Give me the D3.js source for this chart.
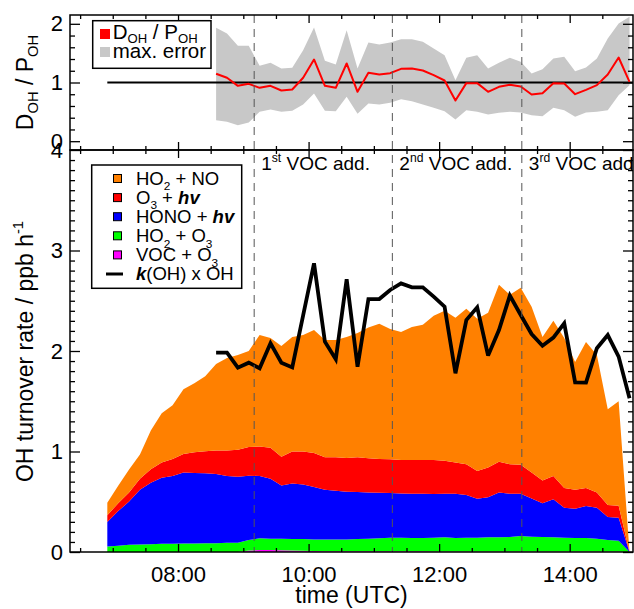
<!DOCTYPE html>
<html><head><meta charset="utf-8">
<script src="https://cdn.jsdelivr.net/npm/d3@7"></script>
<style>
body{margin:0;background:#fff}
svg{display:block;font-family:"Liberation Sans",Arial,Helvetica,sans-serif}
</style>
</head><body>
<svg id="c" width="634" height="609"></svg>
<script>
// ---------- DATA ----------
const stackTimes = ["06:55","07:05","07:15","07:25","07:35","07:45","07:55","08:05","08:15","08:25",
  "08:35","08:45","08:55","09:05","09:15","09:25","09:35","09:45","09:55","10:05",
  "10:15","10:25","10:35","10:45","10:55","11:05","11:15","11:25","11:35","11:45",
  "11:55","12:05","12:15","12:25","12:35","12:45","12:55","13:05","13:15","13:25",
  "13:35","13:45","13:55","14:05","14:15","14:25","14:35","14:45","14:55"];
const vocO3 = [0,0,0,0,0,0,0,0,0,0, 0,0,0,0.015,0.02,0.02,0.018,0.015,0.012,0.01,
  0.008,0.008,0.008,0.008,0.008,0.008,0.008,0.008,0.008,0.008,
  0.006,0.006,0.006,0.006,0.006,0.006,0.006,0.006,0.006,0.006,
  0.006,0.006,0.006,0.006,0.006,0.006,0.006,0.006,0];
const ho2O3 = [0.054,0.061,0.071,0.075,0.078,0.081,0.081,0.085,0.085,0.088,
  0.088,0.091,0.091,0.104,0.116,0.112,0.114,0.114,0.117,0.115,
  0.117,0.117,0.117,0.121,0.124,0.128,0.134,0.134,0.131,0.131,
  0.136,0.140,0.133,0.136,0.136,0.140,0.140,0.143,0.153,0.146,
  0.143,0.140,0.136,0.133,0.133,0.126,0.113,0.106,0];
const honoHv = [0.244,0.346,0.431,0.545,0.610,0.658,0.675,0.705,0.701,0.695,
  0.688,0.665,0.658,0.640,0.620,0.597,0.529,0.552,0.542,0.522,
  0.495,0.485,0.475,0.467,0.461,0.454,0.444,0.441,0.440,0.440,
  0.434,0.433,0.440,0.424,0.387,0.400,0.447,0.430,0.420,0.380,
  0.336,0.379,0.299,0.291,0.318,0.309,0.230,0.230,0];
const o3Hv = [0.068,0.078,0.091,0.109,0.135,0.152,0.169,0.186,0.207,0.220,
  0.234,0.254,0.268,0.285,0.294,0.308,0.288,0.319,0.329,0.339,
  0.322,0.332,0.335,0.346,0.339,0.335,0.336,0.332,0.336,0.336,
  0.339,0.329,0.312,0.308,0.278,0.294,0.305,0.295,0.288,0.258,
  0.227,0.231,0.196,0.190,0.180,0.152,0.119,0.119,0];
const ho2NO = [0.124,0.175,0.227,0.241,0.387,0.489,0.535,0.644,0.687,0.747,
  0.860,0.920,0.943,0.956,1.110,1.093,1.101,1.140,1.160,1.224,
  1.168,1.168,1.205,1.238,1.303,1.345,1.298,1.275,1.325,1.345,
  1.435,1.492,1.439,1.546,1.513,1.540,1.762,1.686,1.763,1.650,
  1.428,1.544,1.493,1.270,1.453,1.367,0.952,1.039,0];

const ohTimes = ["08:35","08:45","08:55","09:05","09:15","09:25","09:35","09:45","09:55","10:05",
  "10:15","10:25","10:35","10:45","10:55","11:05","11:15","11:25","11:35","11:45",
  "11:55","12:05","12:15","12:25","12:35","12:45","12:55","13:05","13:15","13:25",
  "13:35","13:45","13:55","14:05","14:15","14:25","14:35","14:45","14:55"];
const kOHxOH = [1.983,1.983,1.834,1.884,1.828,2.076,1.884,1.837,2.355,2.872,
  2.093,1.917,2.713,1.844,2.517,2.517,2.607,2.673,2.634,2.634,
  2.541,2.441,1.778,2.308,2.434,1.954,2.209,2.551,2.358,2.169,
  2.053,2.133,2.275,1.688,1.685,2.027,2.159,1.944,1.530];
const dpRatio = [1.148,1.080,0.943,0.977,0.909,0.943,0.864,0.881,1.080,1.392,
  0.943,0.909,1.324,0.841,1.165,1.136,1.159,1.233,1.239,1.204,
  1.125,1.034,0.693,0.989,0.989,0.841,0.926,0.960,0.932,0.796,
  0.818,0.989,0.983,0.801,0.875,0.955,1.136,1.426,1.011];
const errHigh = [1.931,1.835,1.625,1.625,1.284,1.335,1.239,1.250,1.551,1.937,
  1.369,1.307,1.892,1.239,1.681,1.647,1.681,1.738,1.738,1.693,
  1.579,1.466,1.040,1.420,1.466,1.239,1.335,1.420,1.352,1.153,
  1.227,1.409,1.437,1.193,1.256,1.409,1.750,2.005,2.119];
const errLow = [0.358,0.330,0.273,0.319,0.500,0.540,0.500,0.517,0.625,0.813,
  0.517,0.511,0.756,0.466,0.642,0.625,0.653,0.716,0.682,0.625,
  0.568,0.511,0.370,0.529,0.500,0.455,0.483,0.500,0.489,0.443,
  0.426,0.568,0.529,0.415,0.489,0.500,0.529,0.784,0.955];

const vocAddTimes = ["09:10","11:17","13:16"];
const vocAddOrdinal = [["1","st"],["2","nd"],["3","rd"]];
const vocAddText = [" VOC add."," VOC add."," VOC add"];
const xTickLabels = ["08:00","10:00","12:00","14:00"];
const yTicksBottom = [0,1,2,3,4];
const yTicksTop = [0,1,2];

// ---------- SETUP ----------
const svg = d3.select("#c");
const L = 70, R = 633, T1 = 15, B1 = 150, T2 = 150, B2 = 552;
const parseT = s => { const p = s.split(":").map(Number); return p[0] + p[1] / 60; };
const x = d3.scaleLinear().domain([6.345, 14.97]).range([L, R]);
const yT = d3.scaleLinear().domain([-0.15, 2.15]).range([B1, T1]);
const yB = d3.scaleLinear().domain([0, 4]).range([B2, T2]);

const defs = svg.append("defs");
defs.append("clipPath").attr("id","clipTop").append("rect").attr("x",L).attr("y",T1).attr("width",R-L).attr("height",B1-T1);
defs.append("clipPath").attr("id","clipBot").append("rect").attr("x",L).attr("y",T2).attr("width",R-L).attr("height",B2-T2);

function rich(sel, parts, fs, subShift) {
  const sd = subShift === undefined ? 0.32 : subShift;
  let shift = 0;
  parts.forEach(p => {
    const target = p.sub ? fs * sd : (p.sup ? -fs * 0.42 : 0);
    const ts = sel.append("tspan").text(p.t);
    if (target - shift !== 0) ts.attr("dy", target - shift);
    shift = target;
    if (p.sub || p.sup) ts.attr("font-size", fs * 0.64);
    if (p.bi) ts.attr("font-weight", "bold").attr("font-style", "italic");
  });
}

// ---------- TOP PANEL ----------
const ot = ohTimes.map(parseT);
const gTop = svg.append("g").attr("clip-path","url(#clipTop)");
gTop.append("path").datum(dpRatio)
  .attr("d", d3.area().x((d,i)=>x(ot[i])).y0((d,i)=>yT(errLow[i])).y1((d,i)=>yT(errHigh[i])))
  .attr("fill","#c8c8c8");
gTop.append("path").datum([parseT(stackTimes[0]), x.domain()[1]])
  .attr("d", d3.line().x(d=>x(d)).y(()=>yT(1)))
  .attr("stroke","#000").attr("stroke-width",2).attr("fill","none");
gTop.append("path").datum(dpRatio)
  .attr("d", d3.line().x((d,i)=>x(ot[i])).y(d=>yT(d)))
  .attr("stroke","#ff0000").attr("stroke-width",2).attr("fill","none").attr("stroke-linejoin","round");

// ---------- BOTTOM PANEL ----------
const rows = stackTimes.map((t,i)=>({t:parseT(t), voc:vocO3[i], ho2o3:ho2O3[i], hono:honoHv[i], o3:o3Hv[i], ho2no:ho2NO[i]}));
const keys = ["voc","ho2o3","hono","o3","ho2no"];
const colors = {voc:"#ff00ff", ho2o3:"#00ff00", hono:"#0000ff", o3:"#ff0000", ho2no:"#ff8000"};
const series = d3.stack().keys(keys)(rows);
const gBot = svg.append("g").attr("clip-path","url(#clipBot)");
const area = d3.area().x(d=>x(d.data.t)).y0(d=>yB(d[0])).y1(d=>yB(d[1]));
gBot.selectAll("path.s").data(series).join("path").attr("class","s")
  .attr("d", area).attr("fill", d=>colors[d.key]);
gBot.append("path").datum(kOHxOH)
  .attr("d", d3.line().x((d,i)=>x(ot[i])).y(d=>yB(d)))
  .attr("stroke","#000").attr("stroke-width",3.8).attr("fill","none").attr("stroke-linejoin","miter").attr("stroke-miterlimit",3);

// dashed VOC addition lines
vocAddTimes.forEach(t => {
  svg.append("line").attr("x1",x(parseT(t))).attr("x2",x(parseT(t))).attr("y1",T1).attr("y2",B2)
    .attr("stroke","#555").attr("stroke-width",1).attr("stroke-dasharray","8,6");
});
vocAddTimes.forEach((t,i) => {
  const tx = svg.append("text").attr("x", x(parseT(t)) + 7).attr("y", 170).attr("font-size", 19).attr("fill","#000");
  rich(tx, [{t:vocAddOrdinal[i][0]},{t:vocAddOrdinal[i][1], sup:true},{t:vocAddText[i]}], 19);
});

// ---------- AXES ----------
const majorX = xTickLabels.map(parseT);
const minorX = d3.range(6.5, 15, 0.5).filter(v => !majorX.includes(v));
function styleAxis(g){ g.attr("font-family", null).attr("font-size", 22); g.select(".domain").remove(); g.selectAll("line").attr("stroke","#000").attr("stroke-width",1.3); }

svg.append("g").attr("transform",`translate(0,${B2})`)
  .call(d3.axisBottom(x).tickValues(majorX).tickFormat((d,i)=>xTickLabels[i]).tickSizeInner(-8).tickSizeOuter(0).tickPadding(14))
  .call(styleAxis);
svg.append("g").attr("transform",`translate(0,${B2})`)
  .call(d3.axisBottom(x).tickValues(minorX).tickFormat("").tickSize(-4)).call(styleAxis);
[[T2,"top"],[B1,"bottom"],[T1,"top"]].forEach(([yy,side]) => {
  const ax = side === "top" ? d3.axisTop : d3.axisBottom;
  svg.append("g").attr("transform",`translate(0,${yy})`).call(ax(x).tickValues(majorX).tickFormat("").tickSize(-8)).call(styleAxis);
  svg.append("g").attr("transform",`translate(0,${yy})`).call(ax(x).tickValues(minorX).tickFormat("").tickSize(-4)).call(styleAxis);
});

const minorYB = d3.range(1, 40).map(v=>v/10).filter(v => !Number.isInteger(v));
svg.append("g").attr("transform",`translate(${L},0)`)
  .call(d3.axisLeft(yB).tickValues(yTicksBottom).tickFormat(d3.format("d")).tickSizeInner(-10).tickSizeOuter(0).tickPadding(7))
  .call(styleAxis);
svg.append("g").attr("transform",`translate(${L},0)`)
  .call(d3.axisLeft(yB).tickValues(minorYB).tickFormat("").tickSize(-5)).call(styleAxis);
svg.append("g").attr("transform",`translate(${R},0)`)
  .call(d3.axisRight(yB).tickValues(yTicksBottom).tickFormat("").tickSize(-10)).call(styleAxis);
svg.append("g").attr("transform",`translate(${R},0)`)
  .call(d3.axisRight(yB).tickValues(minorYB).tickFormat("").tickSize(-5)).call(styleAxis);

const minorYT = [0.2,0.4,0.6,0.8,1.2,1.4,1.6,1.8];
svg.append("g").attr("transform",`translate(${L},0)`)
  .call(d3.axisLeft(yT).tickValues(yTicksTop).tickFormat(d3.format("d")).tickSizeInner(-10).tickSizeOuter(0).tickPadding(7))
  .call(styleAxis);
svg.append("g").attr("transform",`translate(${L},0)`)
  .call(d3.axisLeft(yT).tickValues(minorYT).tickFormat("").tickSize(-5)).call(styleAxis);
svg.append("g").attr("transform",`translate(${R},0)`)
  .call(d3.axisRight(yT).tickValues(yTicksTop).tickFormat("").tickSize(-10)).call(styleAxis);
svg.append("g").attr("transform",`translate(${R},0)`)
  .call(d3.axisRight(yT).tickValues(minorYT).tickFormat("").tickSize(-5)).call(styleAxis);

[[T1,B1],[T2,B2]].forEach(([a,b]) => {
  svg.append("rect").attr("x",L).attr("y",a).attr("width",R-L).attr("height",b-a)
    .attr("fill","none").attr("stroke","#000").attr("stroke-width",1.5);
});

// axis titles
const tTop = svg.append("text").attr("transform","translate(33,82.5) rotate(-90)").attr("text-anchor","middle").attr("font-size",23);
rich(tTop, [{t:"D"},{t:"OH",sub:true},{t:" / P"},{t:"OH",sub:true}], 23, 0.22);
const tBot = svg.append("text").attr("transform","translate(33,351.5) rotate(-90)").attr("text-anchor","middle").attr("font-size",23);
rich(tBot, [{t:"OH turnover rate / ppb h"},{t:"-1",sup:true}], 23);
svg.append("text").attr("x",(L+R)/2).attr("y",603).attr("text-anchor","middle").attr("font-size",23).text("time (UTC)");

// ---------- LEGENDS ----------
svg.append("rect").attr("x",92.7).attr("y",20.7).attr("width",118.3).attr("height",47.6).attr("fill","#fff").attr("stroke","#000").attr("stroke-width",1.5);
svg.append("rect").attr("x",100).attr("y",29).attr("width",10).attr("height",10).attr("fill","#ff0000");
svg.append("rect").attr("x",100).attr("y",47).attr("width",10).attr("height",10).attr("fill","#c8c8c8");
const lt1 = svg.append("text").attr("x",112.7).attr("y",38.8).attr("font-size",20.5);
rich(lt1, [{t:"D"},{t:"OH",sub:true},{t:" / P"},{t:"OH",sub:true}], 20.5, 0.2);
svg.append("text").attr("x",112.7).attr("y",57.8).attr("font-size",20.5).text("max. error");

svg.append("rect").attr("x",91.7).attr("y",165).attr("width",150).attr("height",123.3).attr("fill","#fff").attr("stroke","#000").attr("stroke-width",1.5);
const legItems = [
  {key:"ho2no", parts:[{t:"HO"},{t:"2",sub:true},{t:" + NO"}]},
  {key:"o3", parts:[{t:"O"},{t:"3",sub:true},{t:" + "},{t:"hv",bi:true}]},
  {key:"hono", parts:[{t:"HONO + "},{t:"hv",bi:true}]},
  {key:"ho2o3", parts:[{t:"HO"},{t:"2",sub:true},{t:" + O"},{t:"3",sub:true}]},
  {key:"voc", parts:[{t:"VOC + O"},{t:"3",sub:true}]},
  {key:null, parts:[{t:"k",bi:true},{t:"(OH) x OH"}]}
];
legItems.forEach((it,i) => {
  const cy = 178.5 + 19.1 * i;
  if (it.key) {
    svg.append("rect").attr("x",113.5).attr("y",cy-4).attr("width",8).attr("height",8)
      .attr("fill",colors[it.key]).attr("stroke","#000").attr("stroke-width",1);
  } else {
    svg.append("line").attr("x1",106).attr("x2",123).attr("y1",cy).attr("y2",cy).attr("stroke","#000").attr("stroke-width",3);
  }
  const tx = svg.append("text").attr("x",136).attr("y",cy+6.3).attr("font-size",18.5);
  rich(tx, it.parts, 18.5, 0.3);
});
</script>
</body></html>
